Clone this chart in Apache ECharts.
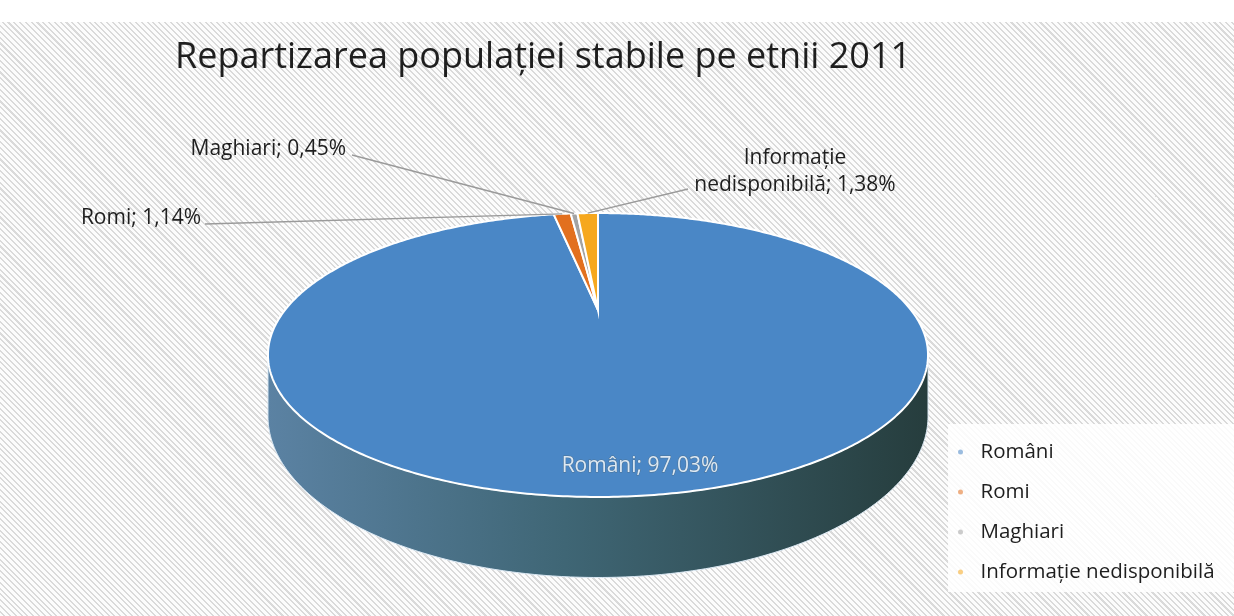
<!DOCTYPE html>
<html>
<head>
<meta charset="utf-8">
<title>Repartizarea populației stabile pe etnii 2011</title>
<script src="https://cdn.jsdelivr.net/npm/echarts@6/dist/echarts.min.js"></script>
<style>
  html, body { margin: 0; padding: 0; background: #fff; }
  /* hasura de fundal ca in scanare */
  #chart {
    width: 1234px; height: 616px;
    background:
      linear-gradient(#fff, #fff) top left / 100% 22px no-repeat,
      repeating-linear-gradient(45deg, #fcfcfc 0px, #fcfcfc 2.6px, #dadada 2.6px, #dadada 4.1px);
  }
</style>
</head>
<body>
<div id="chart"></div>
<script>
// date
var categories = ["Români", "Romi", "Maghiari", "Informație nedisponibilă"];
var values = [97.03, 1.14, 0.45, 1.38];
var colors = ["#4a87c6", "#e2701f", "#a3a3a3", "#f6a81e"];

// pozitii etichete (x, y, aliniere); Români e scris pe felie
var labelLayout = [
  { x: 640, y: 466, align: "center", line: false },
  { x: 201, y: 218, align: "right", line: true, lx: 205, ly: 224 },
  { x: 346, y: 149, align: "right", line: true, lx: 352, ly: 155 },
  { x: 795, y: 172, align: "center", line: true, lx: 688, ly: 189 }
];

// proiectie "3D" in perspectiva a discului
var cx = 598, cy = 310, A = 313, B = 127.7, K = 0.317, H = 55;
var total = values.reduce(function (a, b) { return a + b; }, 0);

function proj(phi, r, depth) {
  var u = r * Math.sin(phi), v = -r * Math.cos(phi);
  var s = 1 / (1 - K * v);
  return [cx + A * u * s, cy + B * v * s + depth * s];
}

function fmt(v) {
  return v.toFixed(2).replace(".", ",") + "%";
}

function labelText(i) {
  var name = categories[i];
  if (i === 3) name = name.replace(" ", "\n");
  return name + "; " + fmt(values[i]);
}

function arc(a, b, r, depth) {
  var pts = [];
  var n = Math.max(2, Math.ceil((b - a) / 0.01));
  for (var j = 0; j <= n; j++) {
    pts.push(proj(a + (b - a) * j / n, r, depth));
  }
  return pts;
}

function renderSlice(params, api) {
  var i = params.seriesIndex;
  var before = 0;
  for (var j = 0; j < i; j++) before += values[j];
  var a = before / total * Math.PI * 2;
  var b = (before + values[i]) / total * Math.PI * 2;
  var children = [];

  // peretele din fata (doar partea vizibila)
  var f1 = Math.acos(-K), f2 = Math.PI * 2 - Math.acos(-K);
  var wa = Math.max(a, f1), wb = Math.min(b, f2);
  if (wb > wa) {
    var top = arc(wa, wb, 1, 0);
    var bottom = arc(wa, wb, 1, H).reverse();
    children.push({
      type: "polygon",
      shape: { points: top.concat(bottom) },
      style: {
        fill: {
          type: "linear", x: 0, y: 0, x2: 1, y2: 0,
          colorStops: [
            { offset: 0, color: "#5b82a3" },
            { offset: 0.45, color: "#3f6675" },
            { offset: 1, color: "#263d3d" }
          ]
        },
        stroke: "#dbe8f3",
        lineWidth: 1
      }
    });
  }

  // fata de sus
  var pts = [proj(0, 0, 0)].concat(arc(a, b, 1, 0));
  children.push({
    type: "polygon",
    shape: { points: pts },
    style: { fill: colors[i], stroke: "#fff", lineWidth: 2 }
  });

  // eticheta
  var L = labelLayout[i];
  if (L.line) {
    var rim = proj((a + b) / 2, 1, 0);
    children.push({
      type: "polyline",
      shape: { points: [[L.lx, L.ly], rim] },
      style: { stroke: "#9a9a9a", lineWidth: 1.5, fill: null }
    });
  }
  children.push({
    type: "text",
    style: {
      text: labelText(i),
      x: L.x, y: L.y,
      align: L.align,
      verticalAlign: "middle",
      fontFamily: "Open Sans",
      fontSize: 21,
      lineHeight: 27,
      fill: i === 0 ? "#dce8f3" : "#1e1e1e",
      stroke: i === 0 ? "#4d7395" : null,
      lineWidth: i === 0 ? 1 : 0
    }
  });

  return { type: "group", children: children };
}

var series = categories.map(function (name, i) {
  return {
    type: "custom",
    name: name,
    coordinateSystem: "none",
    itemStyle: { color: colors[i] },
    data: [[values[i]]],
    renderItem: renderSlice,
    silent: true
  };
});

var chart = echarts.init(document.getElementById("chart"));
chart.setOption({
  animation: false,
  title: {
    text: "Repartizarea populației stabile pe etnii 2011",
    left: 170,
    top: 35,
    textStyle: { fontFamily: "Open Sans", fontSize: 36, fontWeight: "normal", color: "#1e1e1e" }
  },
  graphic: [{
    type: "rect",
    shape: { x: 948, y: 424, width: 286, height: 168 },
    style: { fill: "rgba(255,255,255,0.85)" },
    z: 0
  }],
  legend: {
    orient: "vertical",
    left: 953,
    top: 436,
    itemGap: 18,
    itemWidth: 30,
    itemHeight: 5,
    icon: "circle",
    itemStyle: { opacity: 0.55 },
    data: categories,
    selectedMode: false,
    textStyle: { fontFamily: "Open Sans", fontSize: 20.5, lineHeight: 22, color: "#1e1e1e" }
  },
  series: series
});
</script>
</body>
</html>
